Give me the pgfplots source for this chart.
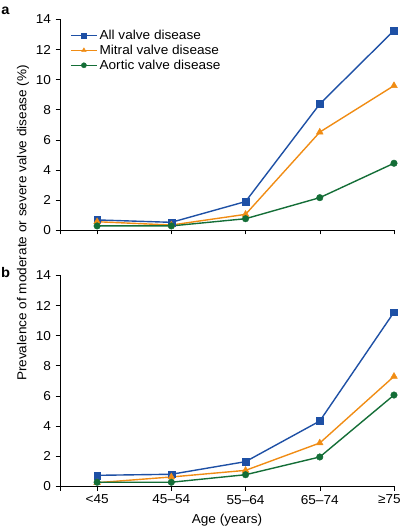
\documentclass[border=0pt]{standalone}
\usepackage{fontspec}
\setmainfont[FakeStretch=1.05]{Liberation Sans}
\usepackage{pgfplots}
\pgfplotsset{compat=1.18}
\definecolor{cblue}{RGB}{30,80,165}
\definecolor{corange}{RGB}{240,140,20}
\definecolor{cgreen}{RGB}{20,110,55}
\newcommand{\myfont}{\fontsize{13}{15.5}\selectfont}
\pgfplotsset{
  myaxis/.style={
    scale only axis, width=334bp, height=210.5bp,
    xmin=-0.5, xmax=4, ymin=0, ymax=14,
    axis lines*=left, tick align=outside,
    xtick={-0.5,0,1,2,3,4},
    ytick={0,2,...,14},
    major tick length=4.5bp,
    tick style={black, line width=0.5pt},
    axis line style={line width=0.5pt},
    clip=false,
    font=\myfont,
    tick label style={font=\myfont},
    yticklabel style={xshift=-1bp},
    xticklabel style={yshift=-1bp},
    /pgf/number format/assume math mode=true,
    every axis plot/.append style={line width=1.4pt},
  },
  allv/.style={color=cblue, mark=square*, mark size=3.4pt, mark options={line width=0.4pt}},
  mitv/.style={color=corange, mark=triangle*, mark size=3.9pt, mark options={line width=0.4pt}},
  aorv/.style={color=cgreen, mark=*, mark size=3.3pt, mark options={line width=0.4pt}},
}
\begin{document}
\begin{tikzpicture}
\path[use as bounding box] (0,0) rectangle (403bp,528bp);
\begin{axis}[myaxis, at={(60bp,298bp)}, anchor=south west,
  xticklabels={},
  legend style={at={(0.03,0.96)}, anchor=north west, draw=none, fill=none,
    inner sep=0pt, row sep=0bp, font=\myfont},
  legend cell align=left,
  legend image code/.code={\draw[mark repeat=2,mark phase=2,#1,mark size=2.6pt] plot coordinates {(0bp,0bp) (13bp,0bp) (26bp,0bp)};},
]
\addplot[allv] coordinates {(0,0.67) (1,0.51) (2,1.89) (3,8.38) (4,13.27)};
\addplot[mitv] coordinates {(0,0.55) (1,0.33) (2,1.04) (3,6.51) (4,9.60)};
\addplot[aorv] coordinates {(0,0.27) (1,0.27) (2,0.75) (3,2.15) (4,4.44)};
\legend{All valve disease, Mitral valve disease, Aortic valve disease}
\end{axis}
\begin{axis}[myaxis, at={(60bp,42bp)}, anchor=south west,
  xticklabels={,<45,45–54,55–64,65–74,≥75\hspace*{9bp}},
]
\addplot[allv] coordinates {(0,0.71) (1,0.78) (2,1.62) (3,4.32) (4,11.56)};
\addplot[mitv] coordinates {(0,0.22) (1,0.60) (2,1.04) (3,2.86) (4,7.29)};
\addplot[aorv] coordinates {(0,0.25) (1,0.25) (2,0.75) (3,1.93) (4,6.05)};
\end{axis}
\node[rotate=90, font=\myfont] at (23bp,305bp) {Prevalence of moderate or severe valve disease (\%)};
\node[font=\myfont] at (227bp,8bp) {Age (years)};
\node[font=\bfseries\fontsize{14}{16}\selectfont] at (5.5bp,517bp) {a};
\node[font=\bfseries\fontsize{14}{16}\selectfont] at (5.5bp,255bp) {b};
\end{tikzpicture}
\end{document}
